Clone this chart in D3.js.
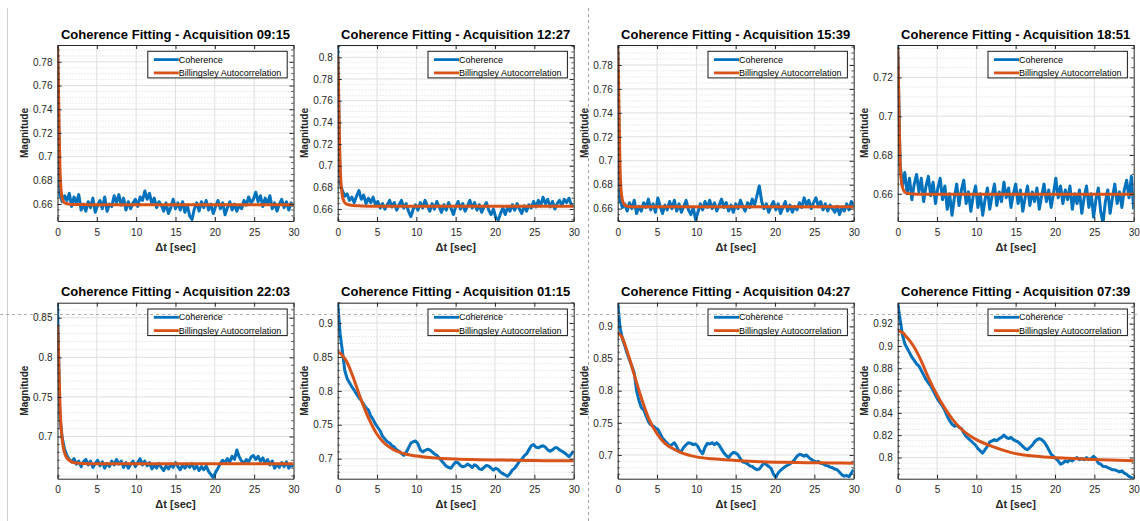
<!DOCTYPE html>
<html lang="en">
<head>
<meta charset="UTF-8">
<title>Coherence Fitting</title>
<script src="https://cdn.jsdelivr.net/npm/d3@7"></script>
<style>
    body{margin:0;background:#fff;}
    text{font-family:"Liberation Sans",Arial,Helvetica,sans-serif;}
</style>
</head>
<body>
<svg width="1140" height="521"></svg>
<script type="text/javascript">
// time lags of the coherence samples [sec]
var lag=[0,0.3,0.6,0.9,1.2,1.5,1.8,2.1,2.4,2.7,3,3.3,3.6,3.9,4.2,4.5,4.8,5.1,5.4,5.7,
    6,6.3,6.6,6.9,7.2,7.5,7.8,8.1,8.4,8.7,9,9.3,9.6,9.9,10.2,10.5,10.8,11.1,11.4,11.7,
    12,12.3,12.6,12.9,13.2,13.5,13.8,14.1,14.4,14.7,15,15.3,15.6,15.9,16.2,16.5,16.8,17.1,17.4,17.7,
    18,18.3,18.6,18.9,19.2,19.5,19.8,20.1,20.4,20.7,21,21.3,21.6,21.9,22.2,22.5,22.8,23.1,23.4,23.7,
    24,24.3,24.6,24.9,25.2,25.5,25.8,26.1,26.4,26.7,27,27.3,27.6,27.9,28.2,28.5,28.8,29.1,29.4,29.7,30];
// time lags of the fitted curve
var fitLag=[0,0.1,0.2,0.3,0.4,0.6,0.8,1,1.5,2,3,4,5,6,7,8,10,12,15,18,21,24,27,30];

var titles=['Coherence Fitting - Acquisition 09:15','Coherence Fitting - Acquisition 12:27',
    'Coherence Fitting - Acquisition 15:39','Coherence Fitting - Acquisition 18:51',
    'Coherence Fitting - Acquisition 22:03','Coherence Fitting - Acquisition 01:15',
    'Coherence Fitting - Acquisition 04:27','Coherence Fitting - Acquisition 07:39'];
var seriesNames=['Coherence','Billingsley Autocorrelation'];

var coh1=[0.794,0.668,0.662,0.667,0.663,0.669,0.658,0.666,0.661,0.668,
    0.655,0.660,0.654,0.662,0.657,0.665,0.653,0.659,0.663,0.656,
    0.666,0.654,0.660,0.658,0.667,0.661,0.668,0.659,0.665,0.655,
    0.662,0.656,0.661,0.664,0.658,0.666,0.663,0.671,0.664,0.669,
    0.660,0.665,0.657,0.662,0.659,0.654,0.661,0.652,0.657,0.664,
    0.656,0.661,0.655,0.662,0.653,0.659,0.650,0.647,0.656,0.661,
    0.654,0.662,0.657,0.663,0.655,0.660,0.652,0.658,0.663,0.656,
    0.661,0.651,0.657,0.662,0.655,0.660,0.654,0.659,0.656,0.663,
    0.659,0.666,0.661,0.664,0.670,0.662,0.667,0.658,0.665,0.660,
    0.667,0.656,0.661,0.654,0.660,0.664,0.657,0.662,0.655,0.661,0.658];
var coh2=[0.811,0.684,0.677,0.672,0.674,0.668,0.671,0.666,0.672,0.677,
    0.669,0.673,0.665,0.670,0.666,0.671,0.664,0.667,0.661,0.665,
    0.660,0.664,0.668,0.662,0.666,0.659,0.664,0.668,0.661,0.665,
    0.658,0.653,0.660,0.664,0.659,0.666,0.661,0.668,0.663,0.658,
    0.665,0.660,0.667,0.662,0.657,0.664,0.659,0.666,0.661,0.655,
    0.662,0.667,0.660,0.665,0.658,0.663,0.668,0.661,0.666,0.659,
    0.664,0.657,0.662,0.666,0.659,0.655,0.660,0.652,0.650,0.656,
    0.661,0.655,0.662,0.658,0.664,0.659,0.665,0.660,0.656,0.663,
    0.658,0.664,0.661,0.667,0.662,0.668,0.663,0.671,0.665,0.669,
    0.662,0.667,0.660,0.665,0.668,0.663,0.669,0.666,0.670,0.664,0.662];
var coh3=[0.796,0.667,0.661,0.664,0.658,0.665,0.660,0.667,0.656,0.662,
    0.658,0.665,0.661,0.668,0.659,0.664,0.657,0.669,0.662,0.656,
    0.663,0.659,0.666,0.660,0.667,0.658,0.664,0.657,0.662,0.667,
    0.659,0.655,0.661,0.651,0.657,0.664,0.659,0.666,0.661,0.667,
    0.660,0.665,0.658,0.663,0.668,0.661,0.665,0.658,0.663,0.657,
    0.664,0.660,0.667,0.662,0.658,0.665,0.661,0.668,0.663,0.671,
    0.679,0.666,0.660,0.664,0.657,0.662,0.666,0.659,0.664,0.656,
    0.661,0.666,0.658,0.663,0.657,0.662,0.659,0.665,0.661,0.669,
    0.663,0.667,0.660,0.665,0.669,0.662,0.666,0.659,0.664,0.658,
    0.663,0.660,0.657,0.662,0.655,0.661,0.658,0.664,0.659,0.666,0.661];
var coh4=[0.7367,0.676,0.664,0.671,0.660,0.668,0.657,0.665,0.670,0.661,
    0.668,0.656,0.664,0.669,0.659,0.666,0.655,0.663,0.668,0.657,
    0.664,0.652,0.660,0.649,0.658,0.665,0.654,0.662,0.667,0.655,
    0.661,0.651,0.659,0.664,0.653,0.660,0.649,0.657,0.663,0.652,
    0.659,0.665,0.654,0.661,0.656,0.666,0.658,0.663,0.653,0.660,
    0.665,0.655,0.662,0.651,0.658,0.664,0.654,0.661,0.656,0.663,
    0.652,0.659,0.665,0.656,0.662,0.653,0.660,0.668,0.658,0.664,
    0.655,0.662,0.657,0.664,0.652,0.660,0.655,0.662,0.650,0.658,
    0.664,0.653,0.660,0.648,0.657,0.663,0.651,0.645,0.656,0.662,
    0.650,0.658,0.665,0.655,0.661,0.653,0.662,0.667,0.658,0.669,0.652];
var coh5=[0.869,0.725,0.698,0.684,0.676,0.671,0.668,0.672,0.665,0.669,
    0.662,0.668,0.671,0.664,0.669,0.661,0.666,0.670,0.663,0.668,
    0.660,0.666,0.662,0.669,0.664,0.671,0.665,0.669,0.661,0.667,
    0.660,0.665,0.669,0.662,0.667,0.672,0.664,0.669,0.663,0.667,
    0.659,0.664,0.660,0.666,0.661,0.657,0.663,0.659,0.665,0.661,
    0.667,0.662,0.658,0.664,0.660,0.665,0.661,0.666,0.659,0.663,
    0.657,0.662,0.658,0.663,0.656,0.652,0.648,0.655,0.660,0.666,
    0.670,0.667,0.672,0.668,0.675,0.671,0.683,0.674,0.669,0.666,
    0.671,0.668,0.674,0.676,0.671,0.675,0.669,0.673,0.666,0.671,
    0.664,0.669,0.660,0.665,0.661,0.667,0.662,0.668,0.660,0.664,0.662];
var coh6=[0.930,0.885,0.858,0.830,0.818,0.812,0.806,0.801,0.795,0.790,
    0.786,0.780,0.775,0.772,0.763,0.758,0.751,0.746,0.741,0.733,
    0.729,0.725,0.723,0.719,0.717,0.713,0.711,0.708,0.705,0.709,
    0.716,0.723,0.725,0.726,0.722,0.713,0.710,0.712,0.714,0.713,
    0.710,0.707,0.705,0.701,0.697,0.693,0.689,0.687,0.686,0.691,
    0.695,0.694,0.690,0.688,0.689,0.692,0.690,0.687,0.691,0.689,
    0.685,0.684,0.687,0.690,0.689,0.686,0.683,0.686,0.684,0.680,
    0.678,0.676,0.674,0.678,0.683,0.686,0.691,0.696,0.699,0.704,
    0.707,0.713,0.719,0.721,0.717,0.716,0.718,0.719,0.717,0.713,
    0.711,0.713,0.716,0.716,0.713,0.711,0.709,0.706,0.703,0.707,0.711];
var coh7=[0.937,0.898,0.881,0.870,0.858,0.848,0.838,0.828,0.800,0.785,
    0.774,0.770,0.761,0.752,0.747,0.745,0.742,0.740,0.733,0.726,
    0.722,0.718,0.714,0.716,0.719,0.713,0.705,0.706,0.712,0.716,
    0.719,0.718,0.716,0.717,0.713,0.706,0.702,0.712,0.718,0.717,
    0.719,0.716,0.719,0.715,0.709,0.703,0.699,0.696,0.701,0.704,
    0.703,0.700,0.694,0.689,0.688,0.686,0.683,0.682,0.679,0.677,
    0.678,0.683,0.687,0.685,0.682,0.679,0.670,0.665,0.672,0.676,
    0.679,0.682,0.684,0.686,0.689,0.693,0.698,0.701,0.700,0.698,
    0.700,0.696,0.693,0.691,0.689,0.690,0.687,0.686,0.684,0.683,
    0.681,0.680,0.678,0.677,0.673,0.669,0.667,0.668,0.666,0.672,0.677];
var coh8=[0.939,0.924,0.910,0.902,0.898,0.894,0.890,0.887,0.884,0.882,
    0.878,0.874,0.870,0.867,0.864,0.860,0.856,0.852,0.849,0.846,
    0.842,0.837,0.833,0.830,0.828,0.829,0.827,0.826,0.822,0.819,
    0.817,0.815,0.813,0.811,0.808,0.806,0.804,0.807,0.810,0.814,
    0.815,0.816,0.815,0.817,0.818,0.820,0.818,0.817,0.818,0.816,
    0.815,0.814,0.812,0.810,0.808,0.807,0.809,0.811,0.814,0.816,
    0.817,0.816,0.814,0.811,0.807,0.803,0.801,0.799,0.797,0.794,
    0.795,0.797,0.796,0.798,0.797,0.799,0.800,0.798,0.799,0.798,
    0.800,0.798,0.799,0.801,0.799,0.795,0.794,0.792,0.792,0.791,
    0.790,0.789,0.789,0.788,0.787,0.788,0.786,0.785,0.783,0.782,0.781];

var fit1=[0.794,0.768,0.726,0.693,0.677,0.665,0.6618,0.6607,0.6599,0.6597,0.6596,0.6595,
    0.6595,0.6595,0.6595,0.6595,0.6595,0.6595,0.6595,0.6595,0.6595,0.6595,0.6595,0.6595];
var fit2=[0.801,0.776,0.733,0.702,0.686,0.672,0.667,0.6652,0.6638,0.6633,0.6629,0.6627,
    0.6626,0.6625,0.6625,0.6625,0.6625,0.6625,0.6625,0.6625,0.6625,0.6625,0.6625,0.6625];
var fit3=[0.796,0.769,0.727,0.694,0.678,0.667,0.6638,0.6626,0.6618,0.6616,0.6615,0.6615,
    0.6615,0.6615,0.6615,0.6615,0.6615,0.6615,0.6615,0.6615,0.6615,0.6615,0.6615,0.6615];
var fit4=[0.735,0.718,0.694,0.677,0.669,0.6635,0.6615,0.6607,0.6601,0.6599,0.6598,0.6598,
    0.6598,0.6598,0.6598,0.6598,0.6598,0.6598,0.6598,0.6598,0.6598,0.6598,0.6598,0.6598];
var fit5=[0.841,0.818,0.778,0.744,0.721,0.696,0.683,0.6765,0.6698,0.6672,0.666,0.6657,
    0.6656,0.6655,0.6655,0.6655,0.6655,0.6655,0.6655,0.6655,0.6655,0.6655,0.6655,0.6655];
var fit6=[0.857,0.8568,0.8563,0.8556,0.8547,0.852,0.849,0.846,0.834,0.819,0.786,0.758,
    0.736,0.722,0.714,0.709,0.704,0.7015,0.6995,0.6985,0.698,0.6975,0.697,0.697];
var fit7=[0.889,0.8888,0.8882,0.8873,0.886,0.882,0.876,0.869,0.850,0.829,0.789,0.755,
    0.733,0.718,0.710,0.704,0.697,0.694,0.6915,0.6895,0.6885,0.688,0.6875,0.687];
var fit8=[0.9135,0.9134,0.9132,0.913,0.9127,0.912,0.911,0.909,0.905,0.900,0.8865,0.870,
    0.856,0.844,0.834,0.826,0.816,0.810,0.8035,0.801,0.7995,0.7985,0.7978,0.797];

var yDomains=[[0.6457,0.7942],[0.649,0.8114],[0.6497,0.7967],[0.646,0.7367],
    [0.6467,0.869],[0.6705,0.930],[0.663,0.937],[0.781,0.9388]];
var yTicks=[[0.66,0.68,0.70,0.72,0.74,0.76,0.78],[0.66,0.68,0.70,0.72,0.74,0.76,0.78,0.80],
    [0.66,0.68,0.70,0.72,0.74,0.76,0.78],[0.66,0.68,0.70,0.72],
    [0.70,0.75,0.80,0.85],[0.70,0.75,0.80,0.85,0.90],[0.70,0.75,0.80,0.85,0.90],
    [0.80,0.82,0.84,0.86,0.88,0.90,0.92]];
var yMinor=[0.005,0.005,0.005,0.005,0.01,0.01,0.01,0.005];
var xTicks=[0,5,10,15,20,25,30];

var cohSeries=[coh1,coh2,coh3,coh4,coh5,coh6,coh7,coh8];
var fitSeries=[fit1,fit2,fit3,fit4,fit5,fit6,fit7,fit8];

/******************************************************************/
var svg=d3.select('svg');
var pw=236, ph=176;                      // size of one plot box
var colX=[57.5,337.7,617.7,897.7];
var rowY=[45,302.7];
var blue='#0072BD', orange='#D95319', axisCol='#262626';
var fmt=function(v){return String(+v.toFixed(3));};

// page decorations of the document the figure sits in
svg.append('line').attr('x1',7.5).attr('x2',7.5).attr('y1',8).attr('y2',521)
    .attr('stroke','#cfcfcf').attr('stroke-width',1);
svg.append('line').attr('x1',588.5).attr('x2',588.5).attr('y1',8).attr('y2',521)
    .attr('stroke','#8a8a8a').attr('stroke-dasharray','3,3').attr('stroke-width',0.8);

titles.forEach(function(title,i){
    var domain=yDomains[i], ticks=yTicks[i], minor=yMinor[i];
    var g=svg.append('g')
        .attr('transform','translate('+colX[i%4]+','+rowY[Math.floor(i/4)]+')');
    var x=d3.scaleLinear().domain([0,30]).range([0,pw]);
    var y=d3.scaleLinear().domain(domain).range([ph,0]);

    g.append('clipPath').attr('id','clip'+i)
        .append('rect').attr('width',pw).attr('height',ph);
    g.append('rect').attr('width',pw).attr('height',ph).attr('fill','#fff');

    //minor grid (dotted)
    var k0=Math.ceil(domain[0]/minor-1e-6), k1=Math.floor(domain[1]/minor+1e-6);
    var minors=d3.range(k0,k1+1).map(function(k){return k*minor;})
        .filter(function(v){return !ticks.some(function(t){return Math.abs(t-v)<1e-6;});});
    g.append('g').selectAll('line').data(minors).enter().append('line')
        .attr('x1',0).attr('x2',pw)
        .attr('y1',function(d){return y(d);}).attr('y2',function(d){return y(d);})
        .attr('stroke','#d2d2d2').attr('stroke-width',0.8).attr('stroke-dasharray','1,2');

    //major grid
    g.append('g').selectAll('line').data(ticks).enter().append('line')
        .attr('x1',0).attr('x2',pw)
        .attr('y1',function(d){return y(d);}).attr('y2',function(d){return y(d);})
        .attr('stroke','#dfdfdf').attr('stroke-width',1);
    g.append('g').selectAll('line').data(xTicks.slice(1,-1)).enter().append('line')
        .attr('y1',0).attr('y2',ph)
        .attr('x1',function(d){return x(d);}).attr('x2',function(d){return x(d);})
        .attr('stroke','#dfdfdf').attr('stroke-width',1);

    //data
    var cohLine=d3.line().x(function(d,j){return x(lag[j]);}).y(function(d){return y(d);});
    var fitLine=d3.line().x(function(d,j){return x(fitLag[j]);}).y(function(d){return y(d);})
        .curve(d3.curveMonotoneX);
    var plot=g.append('g').attr('clip-path','url(#clip'+i+')');
    plot.append('path').datum(cohSeries[i]).attr('d',cohLine)
        .attr('fill','none').attr('stroke',blue).attr('stroke-width',3)
        .attr('stroke-linejoin','round');
    plot.append('path').datum(fitSeries[i]).attr('d',fitLine)
        .attr('fill','none').attr('stroke',orange).attr('stroke-width',3)
        .attr('stroke-linejoin','round');

    //axes, ticks pointing inwards on all four sides
    var axB=g.append('g').attr('transform','translate(0,'+ph+')')
        .call(d3.axisBottom(x).tickValues(xTicks).tickSize(-4).tickSizeOuter(0).tickPadding(7.5).tickFormat(fmt));
    var axL=g.append('g')
        .call(d3.axisLeft(y).tickValues(ticks).tickSize(-4).tickSizeOuter(0).tickPadding(5).tickFormat(fmt));
    var axT=g.append('g')
        .call(d3.axisTop(x).tickValues(xTicks).tickSize(-4).tickSizeOuter(0).tickFormat(''));
    var axR=g.append('g').attr('transform','translate('+pw+',0)')
        .call(d3.axisRight(y).tickValues(ticks).tickSize(-4).tickSizeOuter(0).tickFormat(''));
    [axB,axL,axT,axR].forEach(function(a){
        a.selectAll('path,line').attr('stroke',axisCol);
        a.selectAll('text').attr('fill',axisCol).style('font-size','10px');
    });
    //minor ticks on left and right
    g.append('g').selectAll('line').data(minors).enter().append('line')
        .attr('x1',0).attr('x2',2.2)
        .attr('y1',function(d){return y(d);}).attr('y2',function(d){return y(d);})
        .attr('stroke',axisCol).attr('stroke-width',0.8);
    g.append('g').selectAll('line').data(minors).enter().append('line')
        .attr('x1',pw-2.2).attr('x2',pw)
        .attr('y1',function(d){return y(d);}).attr('y2',function(d){return y(d);})
        .attr('stroke',axisCol).attr('stroke-width',0.8);

    //legend
    var lw=139.4, lh=26.6;
    var lg=g.append('g').attr('transform','translate('+(pw-6.3-lw)+',6.3)');
    lg.append('rect').attr('width',lw).attr('height',lh)
        .attr('fill','#fff').attr('stroke','#1a1a1a').attr('stroke-width',1);
    var items=lg.selectAll('.item').data(seriesNames).enter().append('g')
        .attr('transform',function(d,j){return 'translate(0,'+(8.3+j*13.3)+')';});
    items.append('line').attr('x1',6).attr('x2',31)
        .attr('stroke',function(d,j){return j===0?blue:orange;}).attr('stroke-width',2.8);
    items.append('text').attr('x',31).attr('dy','0.35em')
        .style('font-size','9px').attr('fill','#000')
        .text(function(d){return d;});

    //labels
    g.append('text').attr('x',pw/2).attr('y',-6.5).attr('text-anchor','middle')
        .style('font-size','13px').style('font-weight','bold').attr('fill','#000')
        .text(title);
    g.append('text').attr('x',pw/2).attr('y',ph+29.5).attr('text-anchor','middle')
        .style('font-size','11px').style('font-weight','bold').attr('fill',axisCol)
        .text('\u0394t [sec]');
    g.append('text').attr('transform','translate(-33.5,'+(ph/2)+') rotate(-90)')
        .attr('text-anchor','middle').attr('dy','0.35em')
        .style('font-size','10px').style('font-weight','bold').attr('fill',axisCol)
        .text('Magnitude');
});

// horizontal dashed guide of the document, over the figure
svg.append('line').attr('x1',0).attr('x2',1140).attr('y1',314.5).attr('y2',314.5)
    .attr('stroke','#9a9a9a').attr('stroke-dasharray','3,3').attr('stroke-width',0.8);
</script>
</body>
</html>
